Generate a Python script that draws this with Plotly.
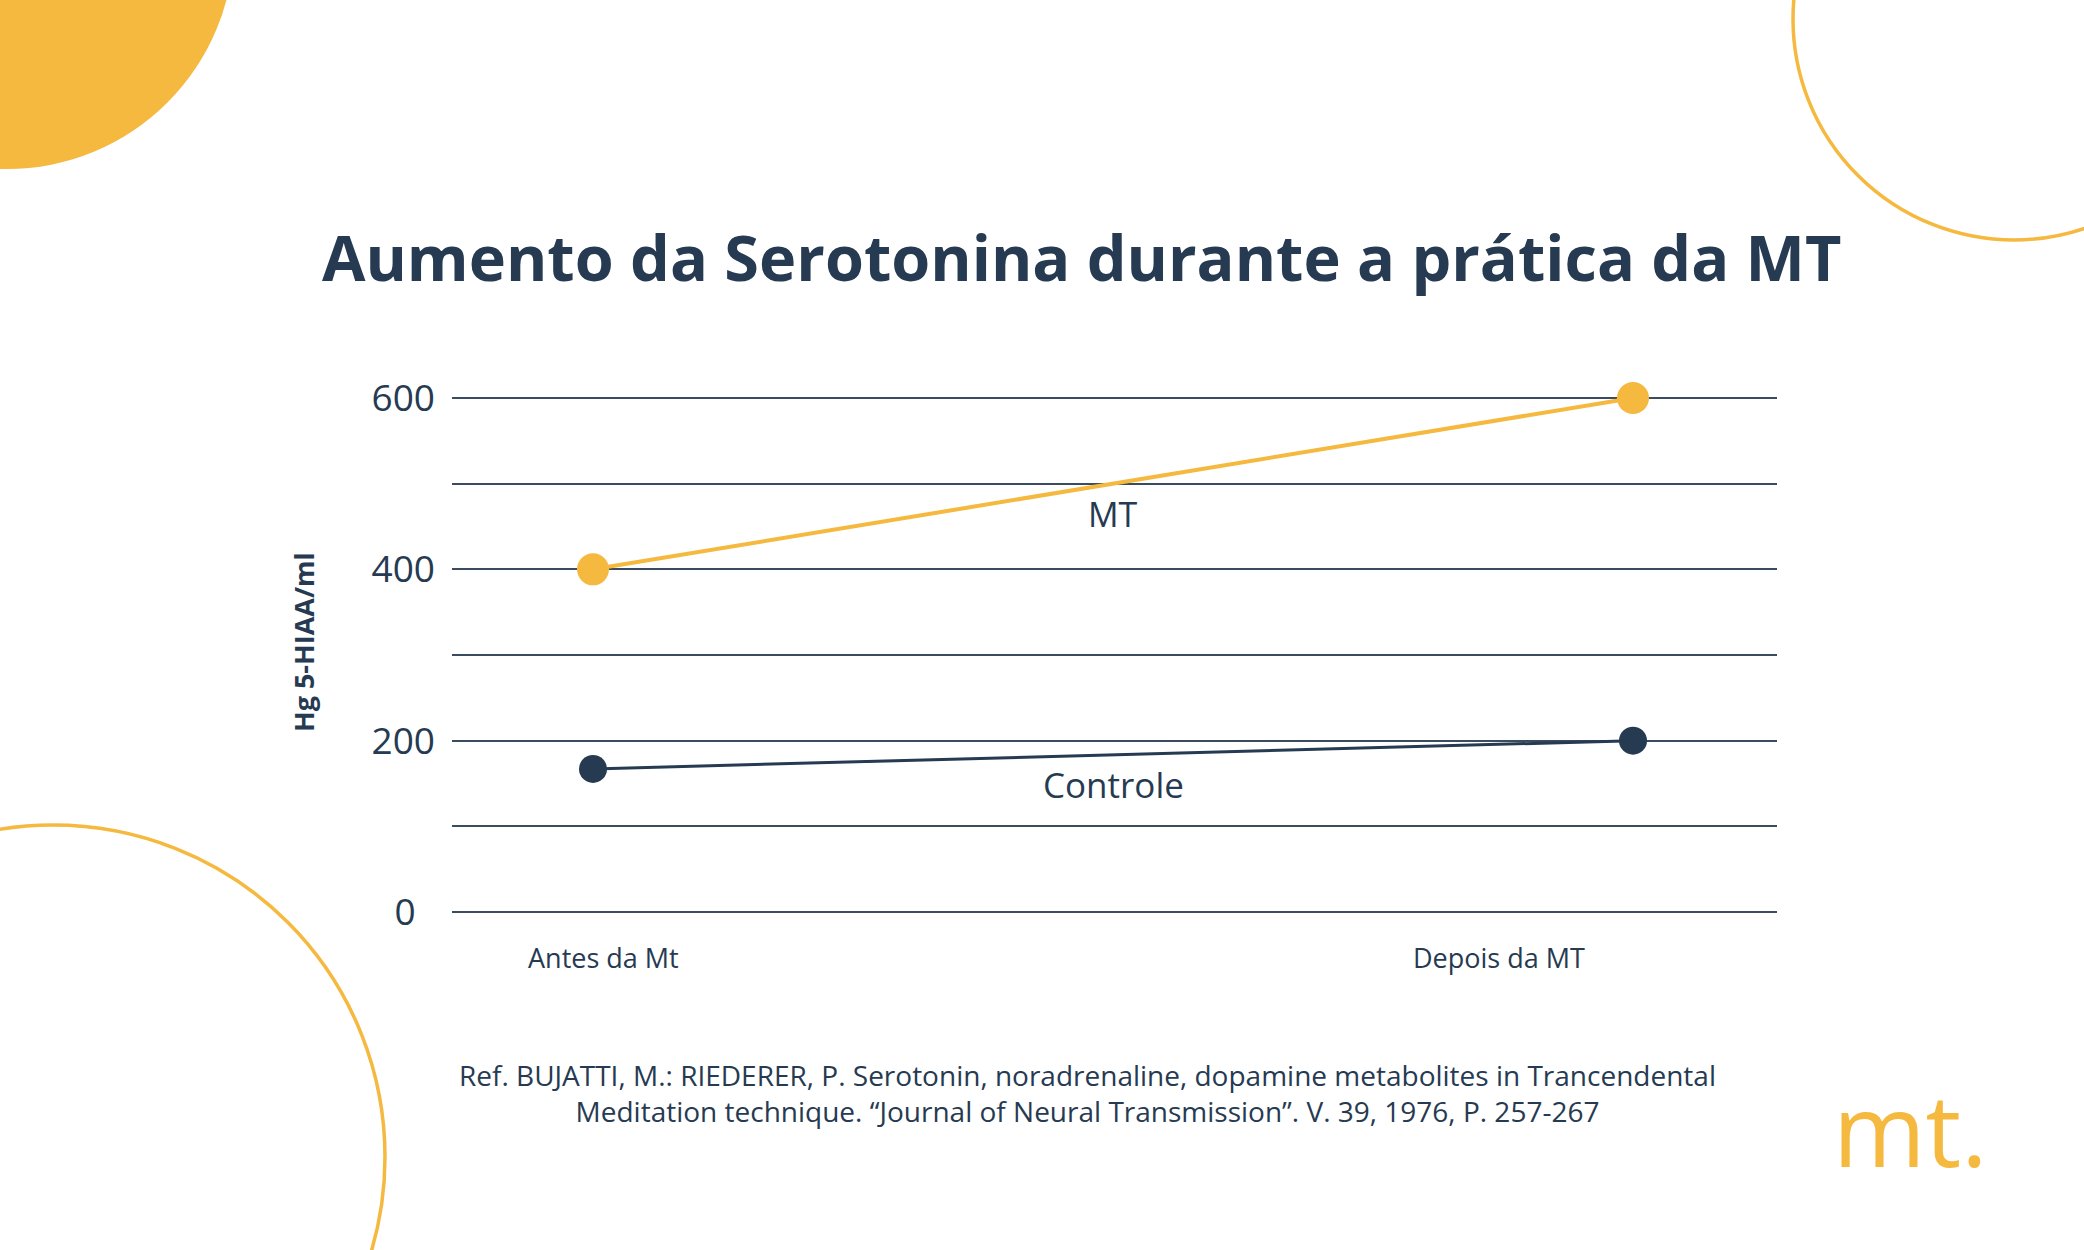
import plotly.graph_objects as go

# ---- data ----
categories = ["Antes da Mt", "Depois da MT"]
mt_values = [400, 600]
controle_values = [167, 200]
series_names = ["MT", "Controle"]
y_tick_vals = [0, 100, 200, 300, 400, 500, 600]
y_tick_text = ["0\u00a0\u00a0", "", "200", "", "400", "", "600"]

title_text = "Aumento da Serotonina durante a prática da MT"
y_title = "Hg 5-HIAA/ml"
ref_text = ("Ref. BUJATTI, M.: RIEDERER, P. Serotonin, noradrenaline, dopamine metabolites in Trancendental<br>"
            "Meditation technique. “Journal of Neural Transmission”. V. 39, 1976, P. 257-267")

NAVY = "#263a52"
YELLOW = "#f5b93f"
FONT = "Open Sans"

W, H = 2084, 1250
Y0_PX, Y600_PX = 912, 398          # pixel rows of the 0 and 600 gridlines
PX_PER_UNIT = (Y0_PX - Y600_PX) / 600
PAD = 6                            # pixels of headroom so edge gridlines show
L, R = 452, 2084 - 1777
T, B = Y600_PX - PAD, H - (Y0_PX + PAD)
PW, PH = W - L - R, H - T - B
y_range = [-PAD / PX_PER_UNIT, 600 + PAD / PX_PER_UNIT]

def px(x):
    return (x - L) / PW

def py(y):
    return (H - B - y) / PH

x_idx = list(range(len(categories)))
span = 1633 - 593
x_range = [(L - 593) / span, (W - R - 593) / span]

fig = go.Figure()
fig.add_trace(go.Scatter(
    x=x_idx, y=controle_values, mode="lines+markers", name=series_names[1],
    line=dict(color=NAVY, width=3), marker=dict(color=NAVY, size=28),
    cliponaxis=False, hoverinfo="skip"))
fig.add_trace(go.Scatter(
    x=x_idx, y=mt_values, mode="lines+markers", name=series_names[0],
    line=dict(color=YELLOW, width=4), marker=dict(color=YELLOW, size=32),
    cliponaxis=False, hoverinfo="skip"))

shapes = [
    dict(type="circle", xref="paper", yref="paper", layer="below",
         x0=px(7 - 227), x1=px(7 + 227), y0=py(-58 + 227), y1=py(-58 - 227),
         fillcolor=YELLOW, line=dict(width=0)),
    dict(type="circle", xref="paper", yref="paper", layer="below",
         x0=px(2014 - 221), x1=px(2014 + 221), y0=py(19 + 221), y1=py(19 - 221),
         line=dict(color=YELLOW, width=3.5)),
    dict(type="circle", xref="paper", yref="paper", layer="below",
         x0=px(53 - 332), x1=px(53 + 332), y0=py(1157 + 332), y1=py(1157 - 332),
         line=dict(color=YELLOW, width=3.5)),
]

def ann(text, x, y, size, color=NAVY, xanchor="center", yanchor="middle", **kw):
    return dict(text=text, xref="paper", yref="paper", x=px(x), y=py(y),
                showarrow=False, xanchor=xanchor, yanchor=yanchor,
                font=dict(family=FONT, size=size, color=color, **kw.pop("font", {})), **kw)

annotations = [
    ann(title_text, 1081, 212, 63, yanchor="top", font=dict(weight="bold")),
    ann(y_title, 303, 642, 27, textangle=-90, font=dict(weight="bold")),
    dict(text=series_names[0], xref="x", yref="y", x=0.5, y=465, showarrow=False,
         xanchor="center", yanchor="middle",
         font=dict(family=FONT, size=34, color=NAVY)),
    dict(text=series_names[1], xref="x", yref="y", x=0.5, y=149, showarrow=False,
         xanchor="center", yanchor="middle",
         font=dict(family=FONT, size=35, color=NAVY)),
    ann(categories[0], 603, 957, 27),
    ann(categories[1], 1499, 957, 27),
    ann(ref_text, 1087, 1093, 28, align="center"),
    ann("mt.", 1910, 1128, 100, color=YELLOW),
]

fig.update_layout(
    width=W, height=H, margin=dict(l=L, r=R, t=T, b=B, autoexpand=False),
    paper_bgcolor="white", plot_bgcolor="white", showlegend=False,
    shapes=shapes, annotations=annotations,
    xaxis=dict(range=x_range, showgrid=False, zeroline=False, showticklabels=False,
               showline=False, fixedrange=True),
    yaxis=dict(range=y_range, tickvals=y_tick_vals, ticktext=y_tick_text,
               showgrid=True, gridcolor="#3b4b60", gridwidth=1.5, zeroline=False,
               showline=False, ticks="", ticklabelstandoff=16,
               tickfont=dict(family=FONT, size=37, color=NAVY),
               fixedrange=True),
)

fig.write_html("out.html")
